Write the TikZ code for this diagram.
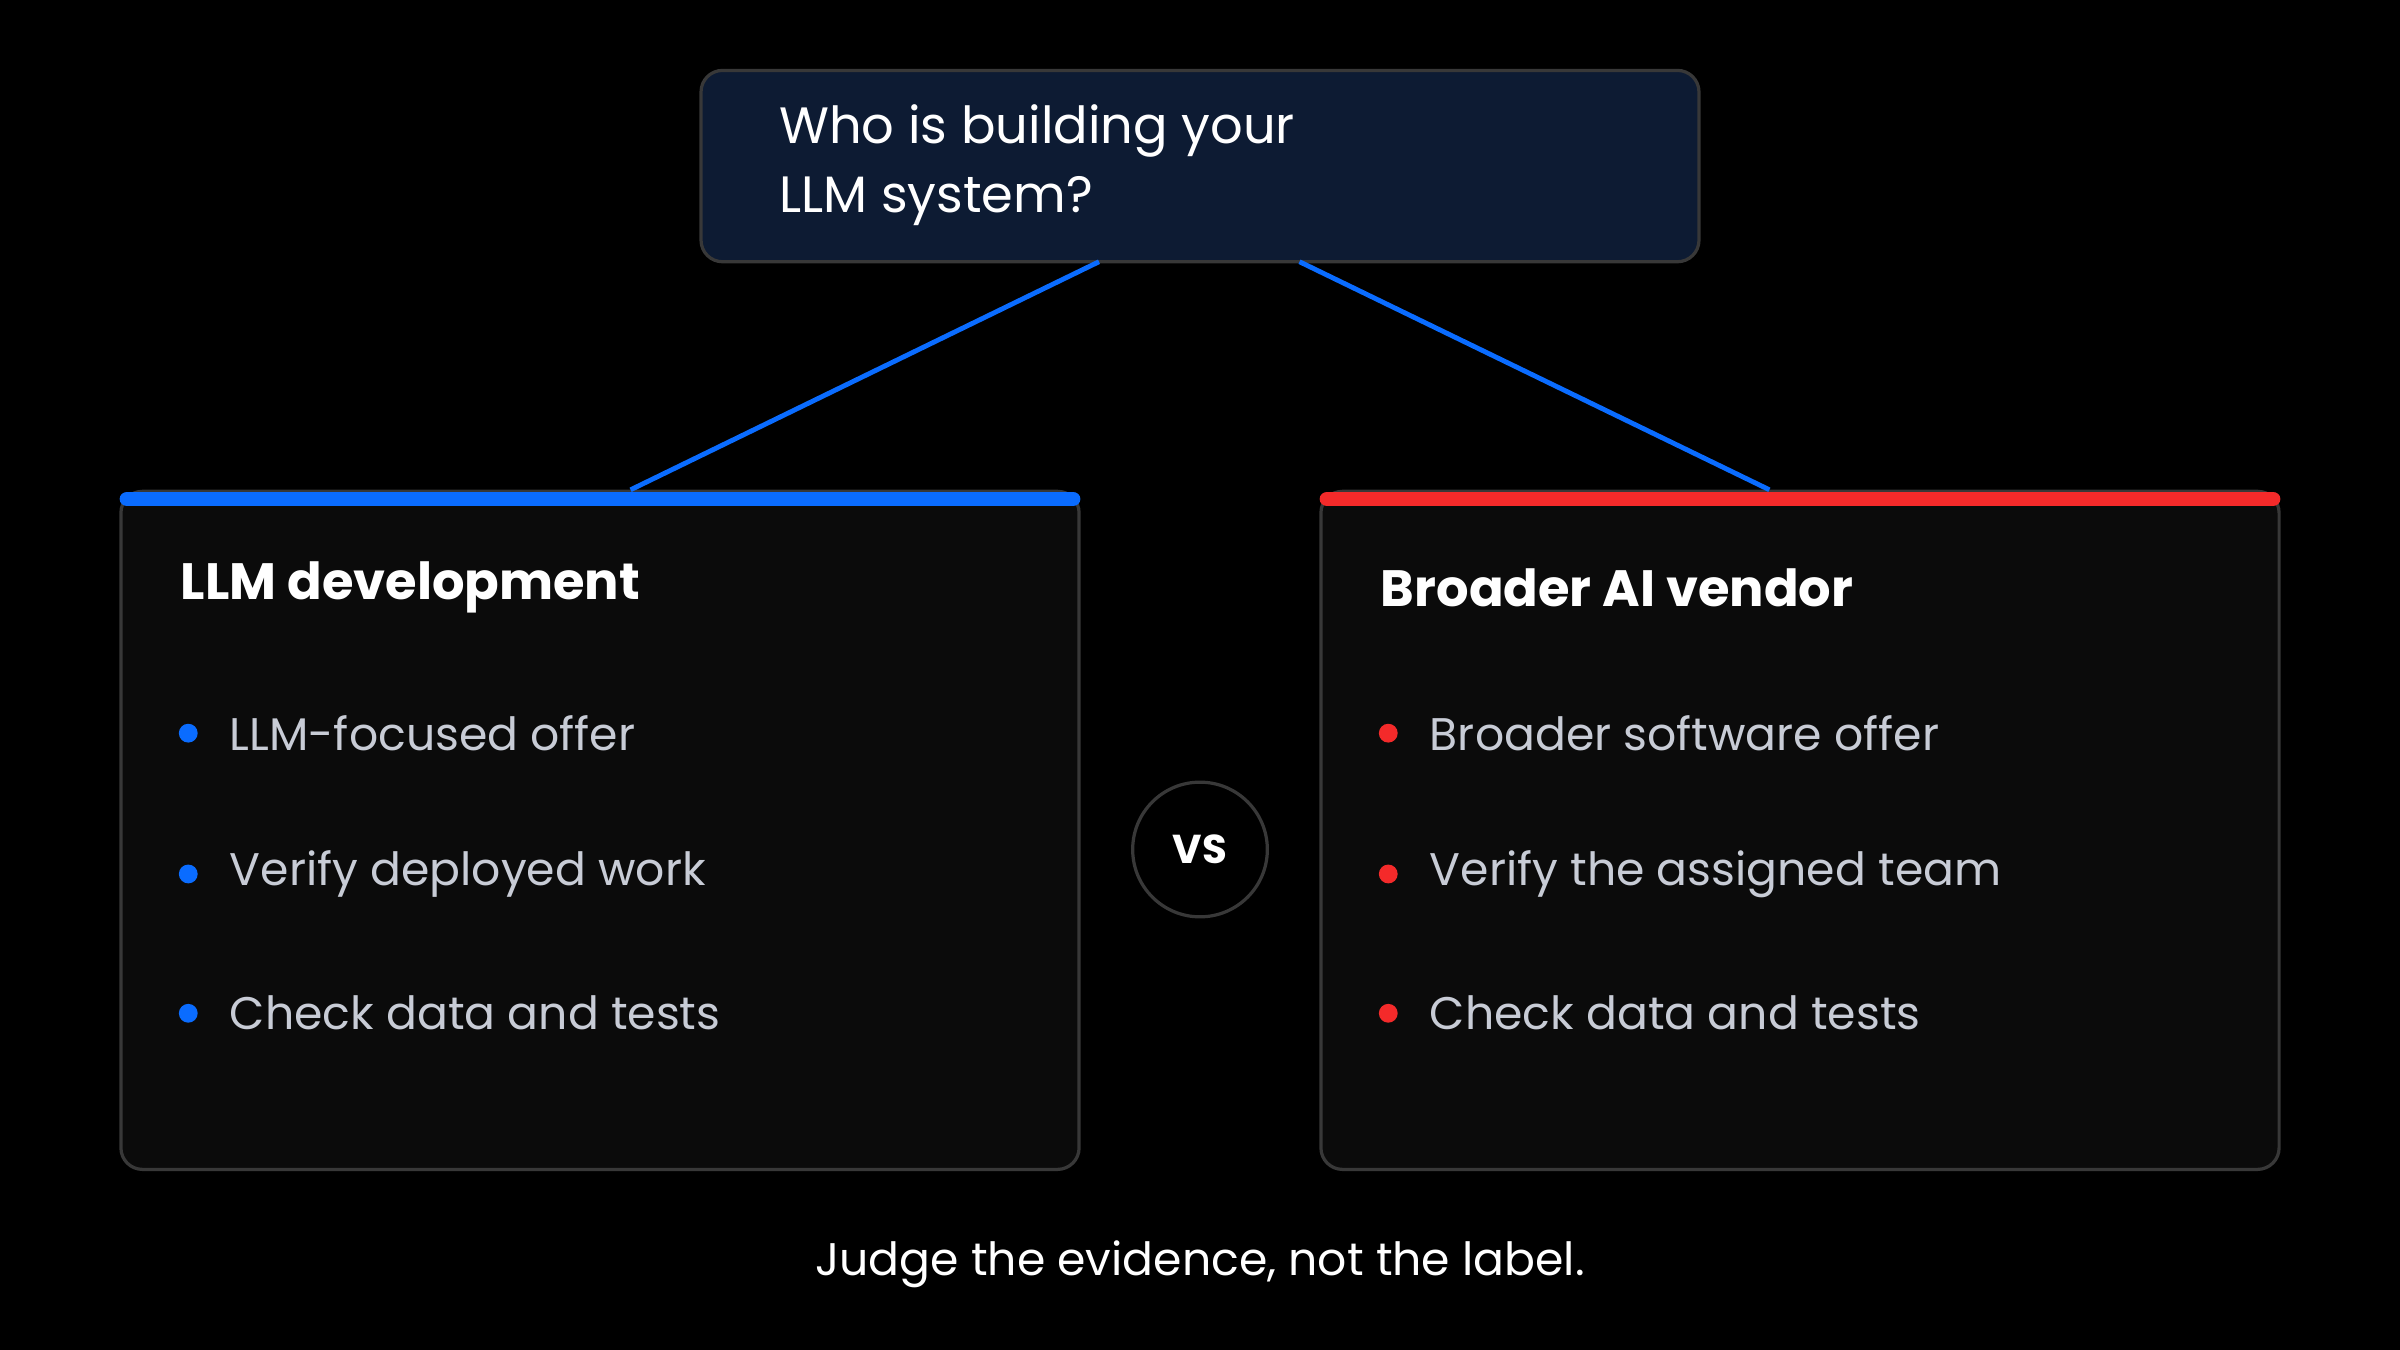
\documentclass[tikz,border=0pt]{standalone}
\usepackage{fontspec}
\setmainfont{Poppins}
\usetikzlibrary{positioning}
\definecolor{navy}{HTML}{0D1B33}
\definecolor{cardbg}{HTML}{0B0B0B}
\definecolor{edge}{HTML}{383838}
\definecolor{llmblue}{HTML}{0A6CFF}
\definecolor{aired}{HTML}{F42A2A}
\definecolor{soft}{HTML}{C8CCD6}
\tikzset{
  card/.style={draw=edge, line width=1.2pt, fill=cardbg, rounded corners=8pt},
  head/.style={anchor=west, text=white, font=\fontsize{19}{23}\selectfont\bfseries},
  item/.style={anchor=west, text=soft, font=\fontsize{17}{20}\selectfont},
  dot/.style={circle, fill=#1, inner sep=0pt, minimum size=7pt}
}
\begin{document}
\begin{tikzpicture}[x=0.02cm,y=-0.02cm]
    % Background
    \fill[black] (0,0) rectangle (1568,882);
    \useasboundingbox (0,0) rectangle (1568,882);

    % Question box
    \draw[draw=edge, line width=1.2pt, fill=navy, rounded corners=8pt] (458,46) rectangle (1110,171);
    \node[anchor=west, text=white, align=left, font=\fontsize{19}{25.5}\selectfont] (q) at (503,108) {Who is building your\\LLM system?};
    \coordinate (qL) at (718,171);
    \coordinate (qR) at (849,171);

    % Cards
    \draw[card] (79,321) rectangle (705,764);
    \draw[card] (863,321) rectangle (1489,764);
    \draw[llmblue, line width=5.5pt, line cap=round] (83,326) -- (701,326);
    \draw[aired, line width=5.5pt, line cap=round] (867,326) -- (1485,326);
    \coordinate (cL) at (412,320);
    \coordinate (cR) at (1156,320);

    % Connectors
    \draw[llmblue, line width=1.8pt] (qL) -- (cL);
    \draw[llmblue, line width=1.8pt] (qR) -- (cR);

    % Headings
    \node[head] (hl) at (112,384) {LLM development};
    \node[head] (hr) at (896,384) {Broader AI vendor};

    % Bullets
    \foreach \y/\txt [count=\i] in {479/LLM-focused offer, 571/Verify deployed work, 662/Check data and tests}{
        \node[dot=llmblue] (bl\i) at (123,\y) {};
        \node[item] (tl\i) at (144,\y) {\txt};
    }
    \foreach \y/\txt [count=\i] in {479/Broader software offer, 571/Verify the assigned team, 662/Check data and tests}{
        \node[dot=aired] (br\i) at (907,\y) {};
        \node[item] (tr\i) at (928,\y) {\txt};
    }

    % VS badge
    \node[circle, draw=edge, line width=1.2pt, fill=black, minimum size=88*0.02cm, text=white,
          font=\fontsize{15}{18}\selectfont\bfseries] (vs) at (784,555) {VS};

    % Footer
    \node[text=white, font=\fontsize{17}{20}\selectfont] (foot) at (784,826) {Judge the evidence, not the label.};
\end{tikzpicture}
\end{document}
